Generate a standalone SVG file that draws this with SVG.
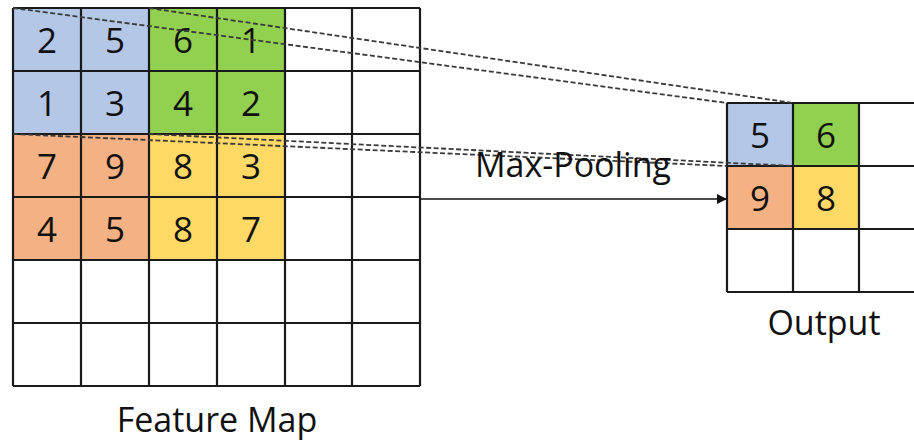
<svg xmlns="http://www.w3.org/2000/svg" width="914" height="441" viewBox="0 0 914 441">
  <style>
    .grid { fill: none; stroke: #1a1a1a; stroke-width: 2.2; }
    .blue { fill: #B4C7E7; }
    .green { fill: #92D050; }
    .orange { fill: #F4B183; }
    .yellow { fill: #FFD966; }
    .num { font-family: "Open Sans", "Liberation Sans", sans-serif; font-size: 35px; fill: #111; text-anchor: middle; }
    .label { font-family: "Open Sans", "Liberation Sans", sans-serif; font-size: 34px; fill: #111; text-anchor: middle; }
    .guide { fill: none; stroke: #3a3a3a; stroke-width: 1.8; stroke-dasharray: 5 2.5; }
    .conn { fill: none; stroke: #111; stroke-width: 1.5; }
  </style>
  <defs>
    <marker id="arrow" viewBox="0 0 10 10" refX="10" refY="5" markerWidth="10" markerHeight="10" markerUnits="userSpaceOnUse" orient="auto">
      <path d="M0,0 L10,5 L0,10 z" fill="#111"/>
    </marker>
  </defs>

  <!-- 6x6 feature map: columns 68 wide, rows 63 tall -->
  <g id="feature-map">
    <rect class="blue" x="13" y="8" width="136" height="126"/>
    <rect class="green" x="149" y="8" width="136" height="126"/>
    <rect class="orange" x="13" y="134" width="136" height="126"/>
    <rect class="yellow" x="149" y="134" width="136" height="126"/>
    <path class="grid" d="M13,8 H420 M13,71 H420 M13,134 H420 M13,197 H420 M13,260 H420 M13,323 H420 M13,386 H420
                          M13,8 V386 M81,8 V386 M149,8 V386 M217,8 V386 M285,8 V386 M352,8 V386 M420,8 V386"/>
    <text class="num" x="47" y="53">2</text>
    <text class="num" x="115" y="53">5</text>
    <text class="num" x="183" y="53">6</text>
    <text class="num" x="251" y="53">1</text>
    <text class="num" x="47" y="116">1</text>
    <text class="num" x="115" y="116">3</text>
    <text class="num" x="183" y="116">4</text>
    <text class="num" x="251" y="116">2</text>
    <text class="num" x="47" y="179">7</text>
    <text class="num" x="115" y="179">9</text>
    <text class="num" x="183" y="179">8</text>
    <text class="num" x="251" y="179">3</text>
    <text class="num" x="47" y="242">4</text>
    <text class="num" x="115" y="242">5</text>
    <text class="num" x="183" y="242">8</text>
    <text class="num" x="251" y="242">7</text>
    <text class="label" x="217" y="432">Feature Map</text>
  </g>

  <!-- pooled output grid, cropped at the right edge -->
  <g id="output">
    <rect class="blue" x="727" y="103" width="66" height="63"/>
    <rect class="green" x="793" y="103" width="66" height="63"/>
    <rect class="orange" x="727" y="166" width="66" height="63"/>
    <rect class="yellow" x="793" y="166" width="66" height="63"/>
    <path class="grid" d="M727,103 H925 M727,166 H925 M727,229 H925 M727,292 H925
                          M727,103 V292 M793,103 V292 M859,103 V292"/>
    <text class="num" x="760" y="148">5</text>
    <text class="num" x="826" y="148">6</text>
    <text class="num" x="760" y="211">9</text>
    <text class="num" x="826" y="211">8</text>
    <text class="label" x="824" y="335">Output</text>
  </g>

  <g id="connectors">
    <line class="guide" x1="13" y1="8" x2="727" y2="103"/>
    <line class="guide" x1="149" y1="8" x2="793" y2="103"/>
    <line class="guide" x1="13" y1="134" x2="727" y2="166"/>
    <line class="guide" x1="149" y1="134" x2="793" y2="166"/>
    <line class="conn" x1="420" y1="199" x2="727" y2="199" marker-end="url(#arrow)"/>
    <text class="label" x="573" y="177">Max-Pooling</text>
  </g>
</svg>
